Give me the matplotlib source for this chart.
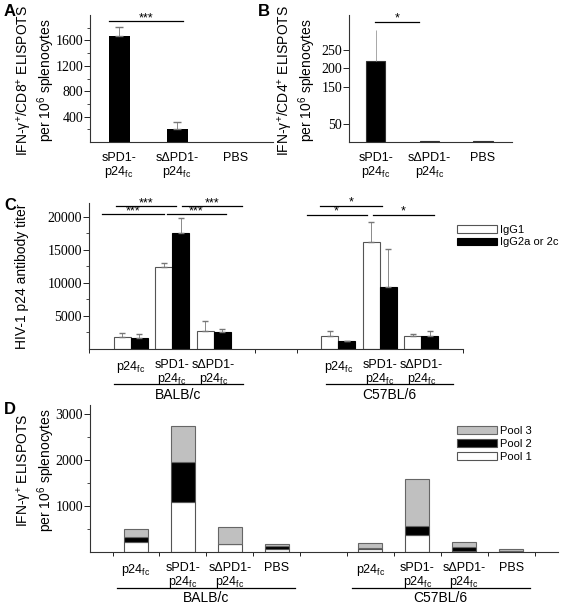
"""Recreates the four-panel ELISPOT / antibody titer figure."""

import matplotlib
matplotlib.use("Agg")
import matplotlib.pyplot as plt
from matplotlib.lines import Line2D
from matplotlib.transforms import blended_transform_factory
import numpy as np

plt.rcParams['font.family'] = ['Liberation Sans', 'DejaVu Sans']
plt.rcParams['mathtext.fontset'] = 'custom'
plt.rcParams['mathtext.rm'] = 'Liberation Sans'
plt.rcParams['mathtext.it'] = 'Liberation Sans:italic'

W, H = 564, 605
FC = r'p24$_{\rm fc}$'

# panel A / B
ab_labels = ['sPD1-\n' + FC, 'sΔPD1-\n' + FC, 'PBS']
a_vals = [1670, 205, 0]
a_err = [1815, 315, 0]
b_vals = [220, 2, 2]
b_err = [305, 2, 2]

# panel C
c_labels = [FC, 'sPD1-\n' + FC, 'sΔPD1-\n' + FC]
c_groups = ['BALB/c', 'C57BL/6']
c_igg1 = [1800, 12400, 2700, 1900, 16200, 2000]
c_igg1_err = [2400, 13000, 4200, 2800, 19200, 2200]
c_igg2 = [1650, 17600, 2500, 1200, 9400, 2000]
c_igg2_err = [2200, 19800, 3000, 1200, 15100, 2700]

# panel D
d_labels = [FC, 'sPD1-\n' + FC, 'sΔPD1-\n' + FC, 'PBS']
d_pool1 = [220, 1090, 175, 60, 60, 370, 20, 10]
d_pool2 = [110, 870, 10, 60, 30, 190, 90, 20]
d_pool3 = [170, 780, 355, 50, 110, 1040, 110, 30]

SERIF = ['Liberation Serif', 'DejaVu Serif']
XFS = 9


def fy(py):
    return 1 - py / H


def make_ax(fig, left, right, top, bottom):
    ax = fig.add_axes([left / W, fy(bottom), (right - left) / W, (bottom - top) / H])
    for s in ['top', 'right']:
        ax.spines[s].set_visible(False)
    for s in ['left', 'bottom']:
        ax.spines[s].set_linewidth(0.8)
        ax.spines[s].set_color('#333333')
    ax.tick_params(axis='y', direction='out', length=4, width=0.6, labelsize=10, pad=1)
    ax.tick_params(axis='y', which='minor', length=2, width=0.5)
    return ax


def serif_ticks(ax, ticks):
    ax.set_yticks(ticks)
    ax.set_yticklabels([str(t) for t in ticks], family=SERIF, fontsize=10)


def xcats(ax, pos, labels, minor=None):
    ax.set_xticks(pos)
    ax.set_xticklabels(labels, fontsize=XFS, linespacing=1.0, va='top')
    ax.tick_params(axis='x', which='major', length=0, pad=7)
    if minor is not None:
        ax.set_xticks(minor, minor=True)
        ax.tick_params(axis='x', which='minor', length=3, width=0.6, direction='out')


def hline(fig, ax, x0, x1, py, text=None, tsize=9, tdy=4):
    tr = blended_transform_factory(ax.transData, fig.transFigure)
    fig.add_artist(Line2D([x0, x1], [fy(py), fy(py)], transform=tr, color='black', lw=0.9))
    if text:
        fig.text((x0 + x1) / 2, fy(py - tdy), text, transform=tr, ha='center',
                 va='center', fontsize=tsize)


def ylabel(fig, px, py, text, fs=10):
    fig.text(px / W, fy(py), text, rotation=90, ha='center', va='center',
             fontsize=fs, linespacing=1.05)


def group_lines(fig, ax, spans, py_line, py_text):
    tr = blended_transform_factory(ax.transData, fig.transFigure)
    for (a, b), g in zip(spans, c_groups):
        hline(fig, ax, a, b, py_line)
        fig.text((a + b) / 2, fy(py_text), g, transform=tr, ha='center', va='center',
                 fontsize=10)


fig = plt.figure(figsize=(W / 100, H / 100), dpi=100)

# ---- A
ax = make_ax(fig, 90, 273, 15, 142)
x = np.arange(3)
ax.bar(x, a_vals, 0.36, color='black')
ax.errorbar(x[:2], a_err[:2], yerr=[np.subtract(a_err[:2], a_vals[:2]), [0, 0]],
            fmt='none', ecolor='#777777', elinewidth=0.6, capsize=3)
ax.set_xlim(-0.5, 2.65)
ax.set_ylim(0, 2000)
serif_ticks(ax, [400, 800, 1200, 1600])
ax.set_yticks(np.arange(200, 2000, 200), minor=True)
xcats(ax, x, ab_labels)
hline(fig, ax, -0.18, 1.1, 21, '***', tdy=3)
ylabel(fig, 36, 80, 'IFN-γ$^{+}$/CD8$^{+}$ ELISPOTS\nper 10$^{6}$ splenocytes')
fig.text(4 / W, fy(12), 'A', fontsize=12, fontweight='bold', va='center')

# ---- B
ax = make_ax(fig, 349, 512, 15, 142)
ax.bar(x, b_vals, 0.36, color='black', edgecolor='#333333', lw=0.8)
ax.errorbar([0], [b_vals[0]], yerr=[[0], [b_err[0] - b_vals[0]]], fmt='none',
            ecolor='#999999', elinewidth=0.6, capsize=0)
ax.set_xlim(-0.5, 2.54)
ax.set_ylim(0, 345)
serif_ticks(ax, [50, 150, 200, 250])
xcats(ax, x, ab_labels)
hline(fig, ax, -0.02, 0.8, 22, '*', tdy=4)
ylabel(fig, 297, 80, 'IFN-γ$^{+}$/CD4$^{+}$ ELISPOTS\nper 10$^{6}$ splenocytes')
fig.text(258 / W, fy(12), 'B', fontsize=12, fontweight='bold', va='center')

# ---- C
ax = make_ax(fig, 89, 463, 203, 349)
pos = np.array([0, 1, 2, 5, 6, 7])
bw = 0.41
ax.bar(pos - bw / 2, c_igg1, bw, color='white', edgecolor='#555555', lw=0.8, label='IgG1')
ax.bar(pos + bw / 2, c_igg2, bw, color='black', edgecolor='black', lw=0.8,
       label='IgG2a or 2c')
for off, v, e in [(-bw / 2, c_igg1, c_igg1_err), (bw / 2, c_igg2, c_igg2_err)]:
    up = np.subtract(e, v)
    ax.errorbar(pos + off, v, yerr=[np.zeros(6), up], fmt='none', ecolor='#777777',
                elinewidth=0.6, capsize=2.5)
ax.set_xlim(-1.0, 8.0)
ax.set_ylim(0, 22100)
serif_ticks(ax, [5000, 10000, 15000, 20000])
ax.set_yticks(np.arange(2500, 22000, 2500), minor=True)
xcats(ax, pos, c_labels * 2, np.arange(-1, 9))
ax.legend(loc='upper left', bbox_to_anchor=(451 / W, fy(219)), bbox_transform=fig.transFigure,
          frameon=False, fontsize=8, handlelength=3.6, handleheight=0.7,
          borderpad=0, labelspacing=0.25, handletextpad=0.3)
hline(fig, ax, -0.34, 1.1, 206, '***', tdy=3)
hline(fig, ax, 1.23, 2.68, 206, '***', tdy=3)
hline(fig, ax, -0.68, 0.8, 214, '***', tdy=3)
hline(fig, ax, 0.87, 2.3, 214, '***', tdy=3)
hline(fig, ax, 4.57, 6.04, 206, '*', tdy=4)
hline(fig, ax, 4.24, 5.68, 215, '*', tdy=4)
hline(fig, ax, 5.84, 7.3, 215, '*', tdy=4)
group_lines(fig, ax, [(-0.4, 2.7), (4.7, 7.75)], 384, 395)
ylabel(fig, 22, 276, 'HIV-1 p24 antibody titer')
fig.text(4 / W, fy(206), 'C', fontsize=12, fontweight='bold', va='center')

# ---- D
ax = make_ax(fig, 90, 558, 405, 552)
pos = np.array([0, 1, 2, 3, 5, 6, 7, 8])
bw = 0.51
ax.bar(pos, d_pool1, bw, color='white', edgecolor='#555555', lw=0.8, label='Pool 1')
ax.bar(pos, d_pool2, bw, bottom=d_pool1, color='black', edgecolor='#555555', lw=0.8,
       label='Pool 2')
ax.bar(pos, d_pool3, bw, bottom=np.add(d_pool1, d_pool2), color='#c0c0c0',
       edgecolor='#666666', lw=0.8, label='Pool 3')
ax.set_xlim(-0.98, 9.0)
ax.set_ylim(0, 3200)
serif_ticks(ax, [1000, 2000, 3000])
ax.set_yticks(np.arange(500, 3200, 500), minor=True)
xcats(ax, pos, d_labels * 2, np.arange(-0.5, 9.0, 1.0))
h, l = ax.get_legend_handles_labels()
ax.legend(h[::-1], l[::-1], loc='upper left', bbox_to_anchor=(451 / W, fy(420)),
          bbox_transform=fig.transFigure, frameon=False, fontsize=8, handlelength=3.6,
          handleheight=0.7, borderpad=0, labelspacing=0.3, handletextpad=0.3)
group_lines(fig, ax, [(-0.4, 3.4), (4.6, 8.4)], 588, 598)
ylabel(fig, 36, 470, 'IFN-γ$^{+}$ ELISPOTS\nper 10$^{6}$ splenocytes')
fig.text(4 / W, fy(410), 'D', fontsize=12, fontweight='bold', va='center')

fig.savefig('out.png', dpi=100)
